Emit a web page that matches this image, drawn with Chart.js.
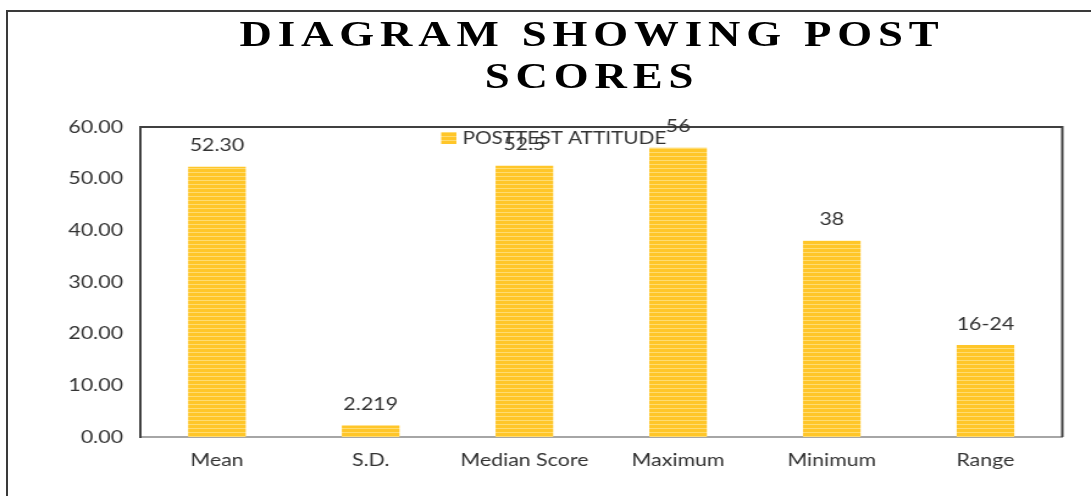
<!DOCTYPE html>
<html>
<head>
<meta charset="utf-8">
<script src="https://cdn.jsdelivr.net/npm/chart.js@4"></script>
<style>
  html, body { margin: 0; padding: 0; background: #fff; }
  #wrap { position: relative; width: 1091px; height: 496px; overflow: hidden; }
  #frame { position: absolute; left: 6px; top: 10px; width: 1200px; height: 600px; border: 2px solid #3a3a3a; box-sizing: border-box; }
  #title { position: absolute; left: 0; top: 14px; width: 1184px; text-align: center;
    font-family: "Liberation Serif", "DejaVu Serif", serif; font-weight: bold; font-size: 35px;
    letter-spacing: 4.6px; line-height: 42px; color: #000; transform: scaleX(1.28); transform-origin: 50% 0; }
  /* the original picture is stretched sideways, so the canvas is too */
  canvas { position: absolute; left: 0; top: 0; }
</style>
</head>
<body>
<div id="wrap">
  <div id="frame"></div>
  <canvas id="postChart" width="894" height="496" style="width:1091px;height:496px"></canvas>
  <div id="title">DIAGRAM SHOWING POST<br>SCORES</div>
</div>
<script>
const categories = ['Mean', 'S.D.', 'Median Score', 'Maximum', 'Minimum', 'Range'];
const postScores = [52.3, 2.219, 52.5, 56, 38, 17.8];
const valueLabels = ['52.30', '2.219', '52.5', '56', '38', '16-24'];
const seriesName = 'POSTTEST ATTITUDE';

const labelFont = { family: 'Lato', size: 17.5 };

// striped yellow fill like the original
function stripes() {
  const c = document.createElement('canvas');
  c.width = 4; c.height = 4;
  const g = c.getContext('2d');
  g.fillStyle = '#ffc629';
  g.fillRect(0, 0, 4, 4);
  g.fillStyle = '#ffdc72';
  g.fillRect(0, 0, 4, 1);
  return g.createPattern(c, 'repeat');
}

const extras = {
  id: 'extras',
  afterDraw(chart) {
    const { ctx, chartArea: a } = chart;
    ctx.save();
    // top and right border of the plot
    ctx.strokeStyle = '#404040';
    ctx.lineWidth = 2;
    ctx.beginPath();
    ctx.moveTo(a.left, a.top);
    ctx.lineTo(a.right, a.top);
    ctx.lineTo(a.right, a.bottom);
    ctx.stroke();

    // value labels above bars
    ctx.font = labelFont.size + 'px ' + labelFont.family;
    ctx.fillStyle = '#333';
    ctx.textAlign = 'center';
    ctx.textBaseline = 'middle';
    chart.getDatasetMeta(0).data.forEach((bar, i) => {
      ctx.fillText(valueLabels[i], bar.x, bar.y - 21);
    });

    // legend sits inside the plot, near the top
    ctx.font = '17px Lato';
    ctx.fillStyle = stripes();
    ctx.fillRect(361.5, 132, 12.5, 12);
    ctx.fillStyle = '#333';
    ctx.textAlign = 'left';
    ctx.fillText(seriesName, 379, 139);
    ctx.restore();
  }
};

new Chart(document.getElementById('postChart'), {
  type: 'bar',
  data: {
    labels: categories,
    datasets: [{
      label: seriesName,
      data: postScores,
      backgroundColor: stripes(),
      borderWidth: 0,
      barPercentage: 0.75,
      categoryPercentage: 0.5
    }]
  },
  options: {
    responsive: false,
    animation: false,
    devicePixelRatio: 1,
    layout: { padding: { top: 127, right: 23.5, left: 0, bottom: 0 } },
    plugins: {
      legend: { display: false },
      tooltip: { enabled: false }
    },
    scales: {
      x: {
        grid: { display: false, drawTicks: false },
        border: { color: '#a6a6a6', width: 2 },
        ticks: { color: '#333', font: labelFont, padding: 13, maxRotation: 0 },
        afterFit(s) { s.height = 59; }
      },
      y: {
        min: 0,
        max: 60,
        grid: { display: false, drawTicks: false },
        border: { color: '#404040', width: 2 },
        ticks: {
          stepSize: 10,
          color: '#333',
          font: labelFont,
          padding: 14,
          callback: v => v.toFixed(2)
        },
        afterFit(s) { s.width = 114.8; }
      }
    }
  },
  plugins: [extras]
});
</script>
</body>
</html>
